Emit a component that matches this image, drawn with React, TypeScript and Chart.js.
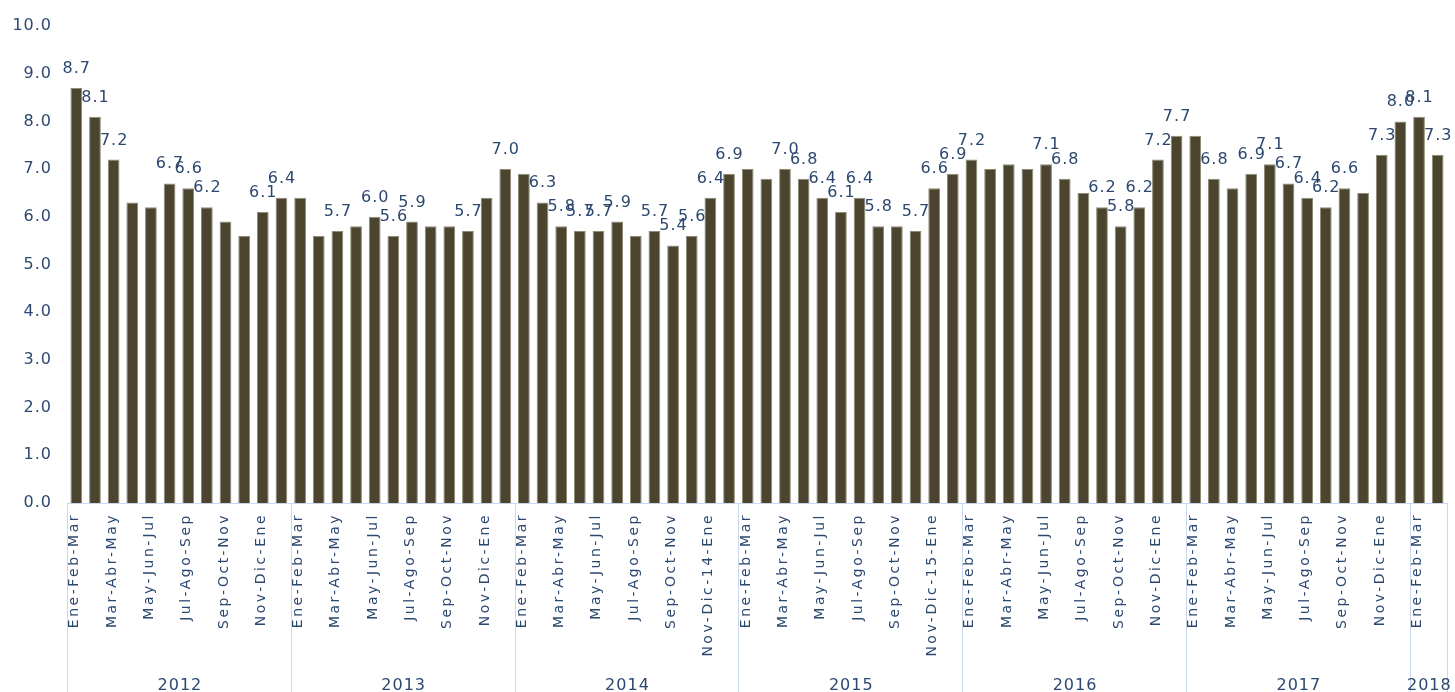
import React, { useEffect, useRef } from "react";
import { Chart, registerables } from "chart.js";

Chart.register(...registerables);

// ---- data ----
const YEARS = ["2012", "2013", "2014", "2015", "2016", "2017", "2018"];

const QUARTERS = [
  "Ene-Feb-Mar", "Feb-Mar-Abr", "Mar-Abr-May", "Abr-May-Jun", "May-Jun-Jul", "Jun-Jul-Ago",
  "Jul-Ago-Sep", "Ago-Sep-Oct", "Sep-Oct-Nov", "Oct-Nov-Dic", "Nov-Dic-Ene", "Dic-Ene-Feb",
];
const QUARTERS_2014 = [
  "Ene-Feb-Mar", "Feb-Mar-Abr", "Mar-Abr-May", "Abr-May-Jun", "May-Jun-Jul", "Jun-Jul-Ago",
  "Jul-Ago-Sep", "Ago-Sep-Oct", "Sep-Oct-Nov", "Oct-Nov-Dic", "Nov-Dic-14-Ene", "Dic-14-Ene-Feb",
];
const QUARTERS_2015 = [
  "Ene-Feb-Mar", "Feb-Mar-Abr", "Mar-Abr-May", "Abr-May-Jun", "May-Jun-Jul", "Jun-Jul-Ago",
  "Jul-Ago-Sep", "Ago-Sep-Oct", "Sep-Oct-Nov", "Oct-Nov-Dic", "Nov-Dic-15-Ene", "Dic-15-Ene-Feb",
];
const QUARTERS_2018 = ["Ene-Feb-Mar", "Feb-Mar-Abr"];

const V2012 = [8.7, 8.1, 7.2, 6.3, 6.2, 6.7, 6.6, 6.2, 5.9, 5.6, 6.1, 6.4];
const V2013 = [6.4, 5.6, 5.7, 5.8, 6.0, 5.6, 5.9, 5.8, 5.8, 5.7, 6.4, 7.0];
const V2014 = [6.9, 6.3, 5.8, 5.7, 5.7, 5.9, 5.6, 5.7, 5.4, 5.6, 6.4, 6.9];
const V2015 = [7.0, 6.8, 7.0, 6.8, 6.4, 6.1, 6.4, 5.8, 5.8, 5.7, 6.6, 6.9];
const V2016 = [7.2, 7.0, 7.1, 7.0, 7.1, 6.8, 6.5, 6.2, 5.8, 6.2, 7.2, 7.7];
const V2017 = [7.7, 6.8, 6.6, 6.9, 7.1, 6.7, 6.4, 6.2, 6.6, 6.5, 7.3, 8.0];
const V2018 = [8.1, 7.3];

// which bars carry a value label (index within each year)
const SHOWN_2012 = [0, 1, 2, 5, 6, 7, 10, 11];
const SHOWN_2013 = [2, 4, 5, 6, 9, 11];
const SHOWN_2014 = [1, 2, 3, 4, 5, 7, 8, 9, 10, 11];
const SHOWN_2015 = [2, 3, 4, 5, 6, 7, 9, 10, 11];
const SHOWN_2016 = [0, 4, 5, 7, 8, 9, 10, 11];
const SHOWN_2017 = [1, 3, 4, 5, 6, 7, 8, 10, 11];
const SHOWN_2018 = [0, 1];

const Y_TICK_STEP = 1;

// ---- derived tables ----
const YEAR_QUARTERS = [QUARTERS, QUARTERS, QUARTERS_2014, QUARTERS_2015, QUARTERS, QUARTERS, QUARTERS_2018];
const YEAR_VALUES = [V2012, V2013, V2014, V2015, V2016, V2017, V2018];
const YEAR_SHOWN = [SHOWN_2012, SHOWN_2013, SHOWN_2014, SHOWN_2015, SHOWN_2016, SHOWN_2017, SHOWN_2018];

const LABELS: string[] = [];
const VALUES: number[] = [];
const SHOWN = new Set<number>();
const GROUPS: { year: string; start: number; end: number }[] = [];
YEAR_VALUES.forEach((vals, y) => {
  const start = VALUES.length;
  vals.forEach((v, i) => {
    if (YEAR_SHOWN[y].includes(i)) SHOWN.add(VALUES.length);
    LABELS.push(YEAR_QUARTERS[y][i]);
    VALUES.push(v);
  });
  GROUPS.push({ year: YEARS[y], start, end: VALUES.length });
});

const TEXT = "#2C4870";
const BAR = "#4B4530";
const LINE = "#C9D8EC";
const FONT = "'DejaVu Sans', Verdana, sans-serif";

const overlay = {
  id: "overlay",
  beforeDraw(chart: any) {
    chart.ctx.letterSpacing = "1px";
  },
  afterDraw(chart: any) {
    const ctx = chart.ctx;
    const x = chart.scales.x;
    const area = chart.chartArea;
    const meta = chart.getDatasetMeta(0);
    const step = x.getPixelForValue(1) - x.getPixelForValue(0);
    const H = chart.height;

    ctx.save();
    // value labels
    ctx.fillStyle = TEXT;
    ctx.font = `16px ${FONT}`;
    ctx.letterSpacing = "1px";
    ctx.textAlign = "center";
    ctx.textBaseline = "alphabetic";
    meta.data.forEach((el: any, i: number) => {
      if (!SHOWN.has(i)) return;
      ctx.fillText(VALUES[i].toFixed(1), el.x + 0.5, el.y - 15);
    });

    // category labels (every other)
    ctx.font = `14px ${FONT}`;
    ctx.letterSpacing = "2.5px";
    ctx.textAlign = "right";
    LABELS.forEach((lab, i) => {
      if (i % 2 !== 0) return;
      const px = x.getPixelForValue(i);
      ctx.save();
      ctx.translate(px + 2, area.bottom + 10);
      ctx.rotate(-Math.PI / 2);
      ctx.fillText(lab, 0, 0);
      ctx.restore();
    });

    // group separators and years
    ctx.strokeStyle = LINE;
    ctx.lineWidth = 1;
    GROUPS.forEach((g) => {
      const left = x.getPixelForValue(g.start) - step / 2;
      const right = x.getPixelForValue(g.end - 1) + step / 2;
      [left, right].forEach((lx) => {
        const sx = Math.round(lx) + 0.5;
        ctx.beginPath();
        ctx.moveTo(sx, area.bottom);
        ctx.lineTo(sx, H);
        ctx.stroke();
      });
      ctx.font = `16px ${FONT}`;
      ctx.letterSpacing = "1px";
      ctx.textAlign = "center";
      ctx.fillText(g.year, (left + right) / 2 + 1, H - 2);
    });
    ctx.restore();
  },
};

export default function App() {
  const ref = useRef<HTMLCanvasElement>(null);

  useEffect(() => {
    if (!ref.current) return;
    const chart = new Chart(ref.current, {
      type: "bar",
      data: {
        labels: LABELS,
        datasets: [
          {
            data: VALUES,
            backgroundColor: BAR,
            borderColor: "#8E8A74",
            borderWidth: 1,
            barPercentage: 0.63,
            categoryPercentage: 1,
          },
        ],
      },
      options: {
        responsive: true,
        maintainAspectRatio: false,
        animation: false,
        layout: { padding: { top: 26, right: 8, left: 0, bottom: 0 } },
        plugins: { legend: { display: false }, tooltip: { enabled: false } },
        scales: {
          x: {
            grid: { display: false, drawTicks: false },
            border: { display: true, color: LINE, width: 1 },
            ticks: { display: false },
            afterFit: (s: any) => {
              s.height = 189;
            },
          },
          y: {
            min: 0,
            max: 10,
            grid: { display: false, drawTicks: false },
            border: { display: false },
            ticks: {
              stepSize: Y_TICK_STEP,
              padding: 15,
              color: TEXT,
              font: { family: FONT, size: 16 },
              callback: (v: any) => Number(v).toFixed(1),
            },
            afterFit: (s: any) => {
              s.width = 67;
            },
          },
        },
      },
      plugins: [overlay],
    });
    return () => chart.destroy();
  }, []);

  return (
    <div style={{ position: "absolute", left: 0, top: 0, width: 1455, height: 692 }}>
      <canvas ref={ref} />
    </div>
  );
}
